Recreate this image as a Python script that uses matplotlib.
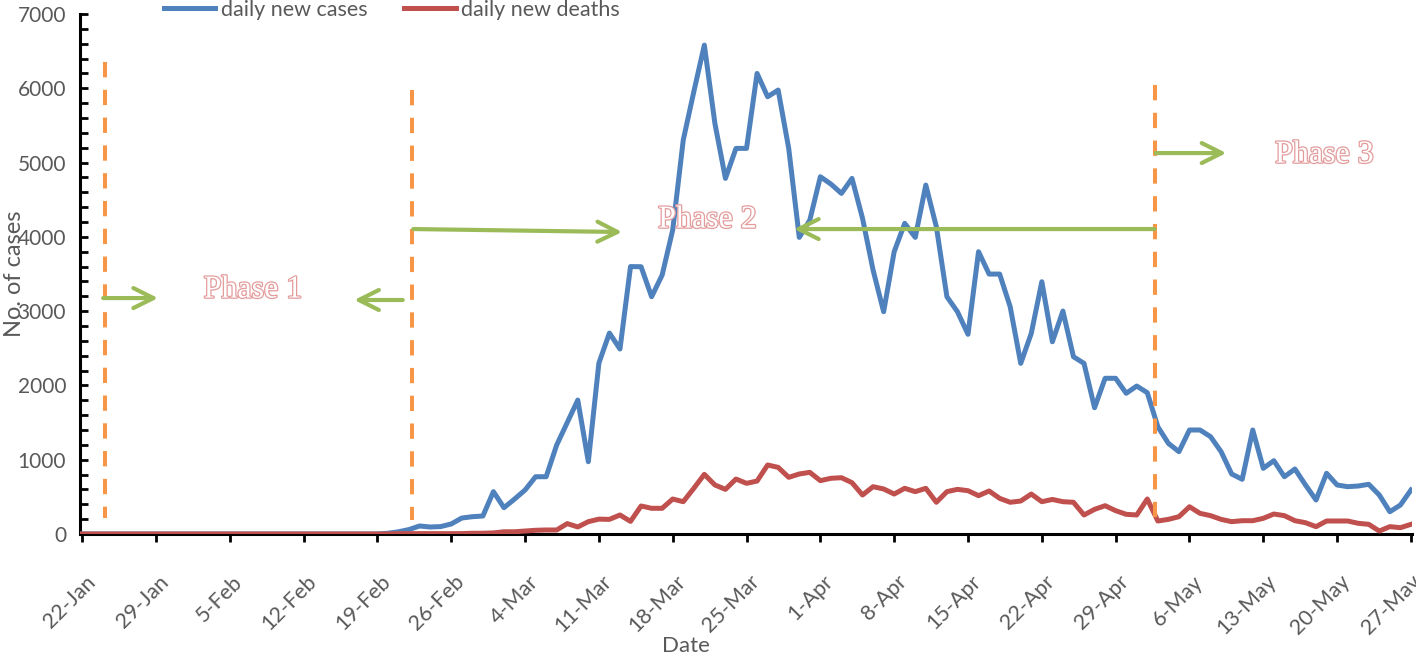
import matplotlib
matplotlib.use("Agg")
import matplotlib.pyplot as plt
import matplotlib.patheffects as pe
from matplotlib.ticker import MultipleLocator
from matplotlib.transforms import ScaledTranslation

# ---------------- data ----------------
tick_labels = ["22-Jan", "29-Jan", "5-Feb", "12-Feb", "19-Feb", "26-Feb", "4-Mar",
               "11-Mar", "18-Mar", "25-Mar", "1-Apr", "8-Apr", "15-Apr", "22-Apr",
               "29-Apr", "6-May", "13-May", "20-May", "27-May"]

daily_cases = [
    0, 0, 0, 0, 0, 0, 0, 0, 0, 0,
    0, 0, 0, 0, 0, 0, 0, 0, 0, 0,
    0, 0, 0, 0, 0, 0, 0, 0, 0, 10,
    30, 60, 108, 94, 100, 135, 215, 233, 242, 570,
    354, 470, 592, 771, 771, 1198, 1500, 1803, 973, 2300,
    2705, 2490, 3600, 3598, 3194, 3486, 4092, 5303, 5953, 6581,
    5528, 4787, 5191, 5191, 6200, 5886, 5976, 5191, 3993, 4226,
    4809, 4711, 4585, 4787, 4249, 3553, 2992, 3800, 4182, 3993,
    4697, 4136, 3194, 2992, 2688, 3800, 3499, 3499, 3059, 2297,
    2701, 3396, 2588, 3001, 2386, 2297, 1700, 2096, 2096, 1894,
    1992, 1902, 1444, 1220, 1108, 1400, 1400, 1310, 1108, 808,
    736, 1400, 884, 987, 771, 875, 660, 458, 817, 660,
    637, 646, 669, 525, 300, 390, 592,
]

daily_deaths = [
    0, 0, 0, 0, 0, 0, 0, 0, 0, 0,
    0, 0, 0, 0, 0, 0, 0, 0, 0, 0,
    0, 0, 0, 0, 0, 0, 0, 0, 0, 0,
    5, 5, 5, 5, 5, 5, 5, 10, 10, 15,
    30, 30, 40, 50, 54, 54, 140, 95, 166, 200,
    197, 256, 170, 377, 346, 346, 471, 435, 615, 803,
    660, 601, 740, 682, 713, 929, 897, 763, 808, 830,
    718, 750, 758, 691, 525, 637, 606, 538, 615, 570,
    615, 427, 570, 601, 583, 516, 579, 480, 427, 444,
    538, 435, 465, 435, 427, 256, 332, 381, 314, 265,
    256, 471, 175, 197, 233, 367, 278, 247, 197, 166,
    179, 179, 211, 269, 247, 179, 152, 99, 175, 175,
    175, 144, 130, 40, 99, 85, 130,
]

# phase boundaries (day index, bottom value, top value)
phase_lines_x = [2.2, 31.3, 101.7]
phase_lines_y0 = [215, 190, 160]
phase_lines_y1 = [6350, 5980, 6040]

# arrows: (x_start, y_start, x_end, y_end)
arrows = [
    (2.0, 3176, 7.2, 3176),
    (30.4, 3150, 25.8, 3150),
    (31.4, 4105, 51.2, 4065),
    (101.7, 4105, 67.5, 4105),
    (101.8, 5128, 108.5, 5128),
]

phase_names = ["Phase 1", "Phase 2", "Phase 3"]
phase_text_x = [16.2, 59.3, 117.8]
phase_text_y = [3284, 4226, 5101]

# ---------------- figure ----------------
plt.rcParams['font.family'] = ['Lato', 'DejaVu Sans']
gray = '#595959'

fig = plt.figure(figsize=(14.16, 6.54), dpi=100)
ax = fig.add_axes([80 / 1416, 1 - 534 / 654, (1412 - 80) / 1416, (534 - 14) / 654])

days = list(range(len(daily_cases)))
l1, = ax.plot(days, daily_cases, color='#4F81BD', lw=3.6, solid_joinstyle='round',
              label='daily new cases', zorder=3)
l2, = ax.plot(days, daily_deaths, color='#C0504D', lw=3.6, solid_joinstyle='round',
              label='daily new deaths', zorder=3)

for x, y0, y1 in zip(phase_lines_x, phase_lines_y0, phase_lines_y1):
    ax.plot([x, x], [y1, y0], color='#F79646', lw=2.9, dashes=(3.8, 3.1), zorder=4)

for xs, ys, xe, ye in arrows:
    ax.annotate('', xy=(xe, ye), xytext=(xs, ys),
                arrowprops=dict(arrowstyle='->', color='#9BBB59', lw=3,
                                mutation_scale=36, shrinkA=0, shrinkB=0),
                zorder=5)

for name, tx, ty in zip(phase_names, phase_text_x, phase_text_y):
    ax.text(tx, ty, name, ha='center', va='center', fontsize=23,
            family=['Liberation Serif', 'DejaVu Serif'], color='white',
            path_effects=[pe.withStroke(linewidth=1.8, foreground='#E39C9C')],
            zorder=6)

ax.set_xlim(-0.2, 126.1)
ax.set_ylim(0, 7000)
ax.set_xticks(list(range(0, 127, 7)))
ax.set_xticklabels(tick_labels, rotation=45, ha='right', va='top', rotation_mode='anchor')
ax.yaxis.set_major_locator(MultipleLocator(1000))
ax.yaxis.set_minor_locator(MultipleLocator(200))

for s in ['top', 'right']:
    ax.spines[s].set_visible(False)
for s in ['left', 'bottom']:
    ax.spines[s].set_linewidth(2.2)
    ax.spines[s].set_color('black')

ax.tick_params(axis='x', direction='out', length=6, width=2, colors='black',
               labelcolor=gray, labelsize=15.5, pad=21)
ax.tick_params(axis='y', which='both', direction='in', length=6, width=2,
               colors='black', labelcolor=gray, labelsize=15, pad=10)

# shift the rotated date labels slightly to the right, as in the reference
labels = ax.get_xticklabels()
for i, lab in enumerate(labels):
    dx = 2 if i < len(labels) - 1 else 0
    lab.set_transform(lab.get_transform() + ScaledTranslation(dx / 72, 0, fig.dpi_scale_trans))

ax.set_xlabel('Date', fontsize=16, color=gray)
ax.xaxis.set_label_coords(0.455, -0.197)
ax.set_ylabel('No. of cases', fontsize=17, color=gray)
ax.yaxis.set_label_coords(-0.041, 0.5)

fig.legend(handles=[l1, l2], loc='center left', bbox_to_anchor=(153 / 1416, 1 - 10 / 654),
           ncol=2, frameon=False, fontsize=15.5, labelcolor=gray, handlelength=2.4,
           handletextpad=0.25, columnspacing=1.7, borderpad=0)

fig.savefig('out.png', dpi=100)
